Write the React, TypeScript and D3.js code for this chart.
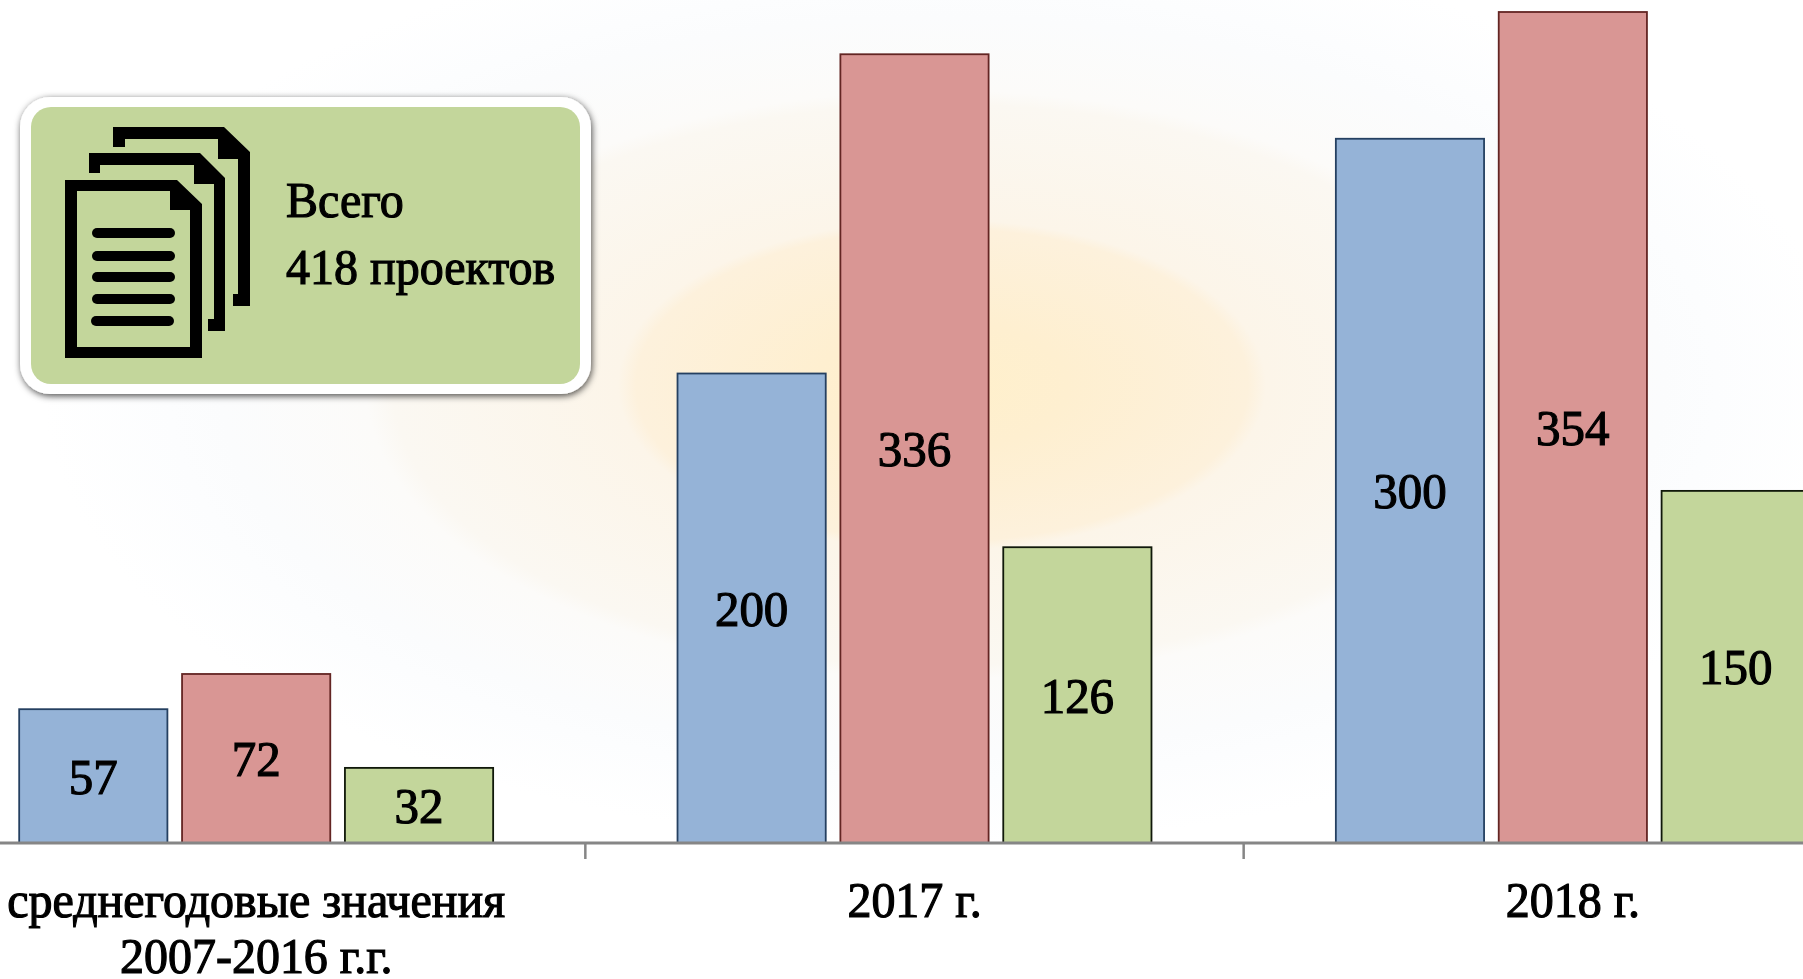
import { useEffect, useRef } from 'react';
import * as d3 from 'd3';

const WIDTH = 1803;
const HEIGHT = 979;

const categories = ['avg', '2017', '2018'];
const categoryLabels = [['среднегодовые значения', '2007-2016 г.г.'], ['2017 г.'], ['2018 г.']];
const seriesNames = ['blue', 'red', 'green'];
const blueValues = [57, 200, 300];
const redValues = [72, 336, 354];
const greenValues = [32, 126, 150];
const seriesValues = [blueValues, redValues, greenValues];
const fills = ['#95b3d7', '#d99694', '#c3d69b'];
const strokes = ['#254061', '#632523', '#10180a'];

// source picture is stretched, text is squeezed horizontally to match
const TEXT_SX = 0.96;

export default function App() {
  const svgRef = useRef<SVGSVGElement>(null);

  useEffect(() => {
    if (!svgRef.current) return;
    const svg = d3.select(svgRef.current);
    svg.selectAll('*').remove();

    const baseY = 843;
    const x0 = d3.scaleBand<string>().domain(categories).range([-73, 1902]);
    const x1 = d3
      .scaleBand<string>()
      .domain(seriesNames)
      .range([0, x0.bandwidth()])
      .paddingInner(0.09)
      .paddingOuter(0.566);
    const y = d3.scaleLinear().domain([0, 354]).range([baseY, 12]);

    const defs = svg.append('defs');
    const grad = defs
      .append('radialGradient')
      .attr('id', 'glow')
      .attr('gradientUnits', 'userSpaceOnUse')
      .attr('cx', 0)
      .attr('cy', 0)
      .attr('r', 1);
    [
      [0, '#fff0cb'],
      [0.14, '#feefd0'],
      [0.34, '#fdf1dc'],
      [0.36, '#fcf5e9'],
      [0.61, '#fbf8f2'],
      [0.64, '#fcfbf9'],
      [0.8, '#fbfcfd'],
      [0.86, '#fcfdfe'],
      [1, '#ffffff'],
    ].forEach(([o, c]) => grad.append('stop').attr('offset', o as number).attr('stop-color', c as string));

    const shadow = defs
      .append('filter')
      .attr('id', 'boxShadow')
      .attr('x', '-5%')
      .attr('y', '-5%')
      .attr('width', '110%')
      .attr('height', '112%');
    shadow
      .append('feDropShadow')
      .attr('dx', 1)
      .attr('dy', 2)
      .attr('stdDeviation', 3.5)
      .attr('flood-color', '#000')
      .attr('flood-opacity', 0.7);

    // background glow
    svg
      .append('ellipse')
      .attr('transform', 'translate(942,385) scale(900,460)')
      .attr('rx', 1)
      .attr('ry', 1)
      .attr('fill', 'url(#glow)');

    // bars
    categories.forEach((c, ci) => {
      seriesNames.forEach((s, si) => {
        const v = seriesValues[si][ci];
        const bx = (x0(c) as number) + (x1(s) as number);
        svg
          .append('rect')
          .attr('x', bx)
          .attr('y', y(v))
          .attr('width', x1.bandwidth())
          .attr('height', baseY - y(v))
          .attr('fill', fills[si])
          .attr('stroke', strokes[si])
          .attr('stroke-width', 1.8);
        addText(svg, bx + x1.bandwidth() / 2, (y(v) + baseY) / 2 + 17.5, String(v), 51, 'middle');
      });
    });

    // axis line and ticks
    svg.append('line').attr('x1', 0).attr('x2', WIDTH).attr('y1', baseY).attr('y2', baseY).attr('stroke', '#868686').attr('stroke-width', 3);
    categories.slice(1).forEach((c) => {
      const t = x0(c) as number;
      svg.append('line').attr('x1', t).attr('x2', t).attr('y1', baseY).attr('y2', baseY + 16).attr('stroke', '#868686').attr('stroke-width', 2.5);
    });

    // category labels
    categories.forEach((c, i) => {
      const cx = (x0(c) as number) + x0.bandwidth() / 2;
      categoryLabels[i].forEach((line, li) => {
        addText(svg, cx, 917 + li * 56, line, 50, 'middle');
      });
    });

    // info box
    svg.append('rect').attr('x', 20).attr('y', 97).attr('width', 571).attr('height', 297).attr('rx', 30).attr('fill', '#fff').attr('filter', 'url(#boxShadow)');
    svg.append('rect').attr('x', 31).attr('y', 107).attr('width', 549).attr('height', 277).attr('rx', 20).attr('fill', '#c3d69b');

    const icon = svg.append('g').attr('fill', '#000');
    // back pages
    icon.append('path').attr('d', 'M113 127H224L250 152V306H233V294H238V159H218V139H125V147H113Z');
    icon.append('path').attr('d', 'M89 153H200L225 178V331H208V319H214V184H194V165H100V173H89Z');
    // front page
    icon.append('path').attr('fill-rule', 'evenodd').attr('d', 'M65 180H177L202 204V358H65ZM77 191V347H190V210H170V191Z');
    [233, 256, 277, 299, 321].forEach((ly, i) => {
      icon
        .append('rect')
        .attr('x', i === 4 ? 91 : 92)
        .attr('y', ly - 5)
        .attr('width', 83)
        .attr('height', 10)
        .attr('rx', 5);
    });

    addText(svg, 286, 217, 'Всего', 50, 'start');
    addText(svg, 286, 284, '418 проектов', 50, 'start');
  }, []);

  return (
    <svg
      ref={svgRef}
      width={WIDTH}
      height={HEIGHT}
      style={{ position: 'absolute', left: 0, top: 0, background: '#fff' }}
    />
  );
}

function addText(svg: any, x: number, y: number, text: string, size: number, anchor: string) {
  svg
    .append('text')
    .attr('transform', `translate(${x},${y}) scale(${TEXT_SX},1)`)
    .attr('text-anchor', anchor)
    .attr('font-family', '"Liberation Serif", serif')
    .attr('font-size', size)
    .attr('fill', '#000')
    .attr('stroke', '#000')
    .attr('stroke-width', 1.2)
    .text(text);
}
